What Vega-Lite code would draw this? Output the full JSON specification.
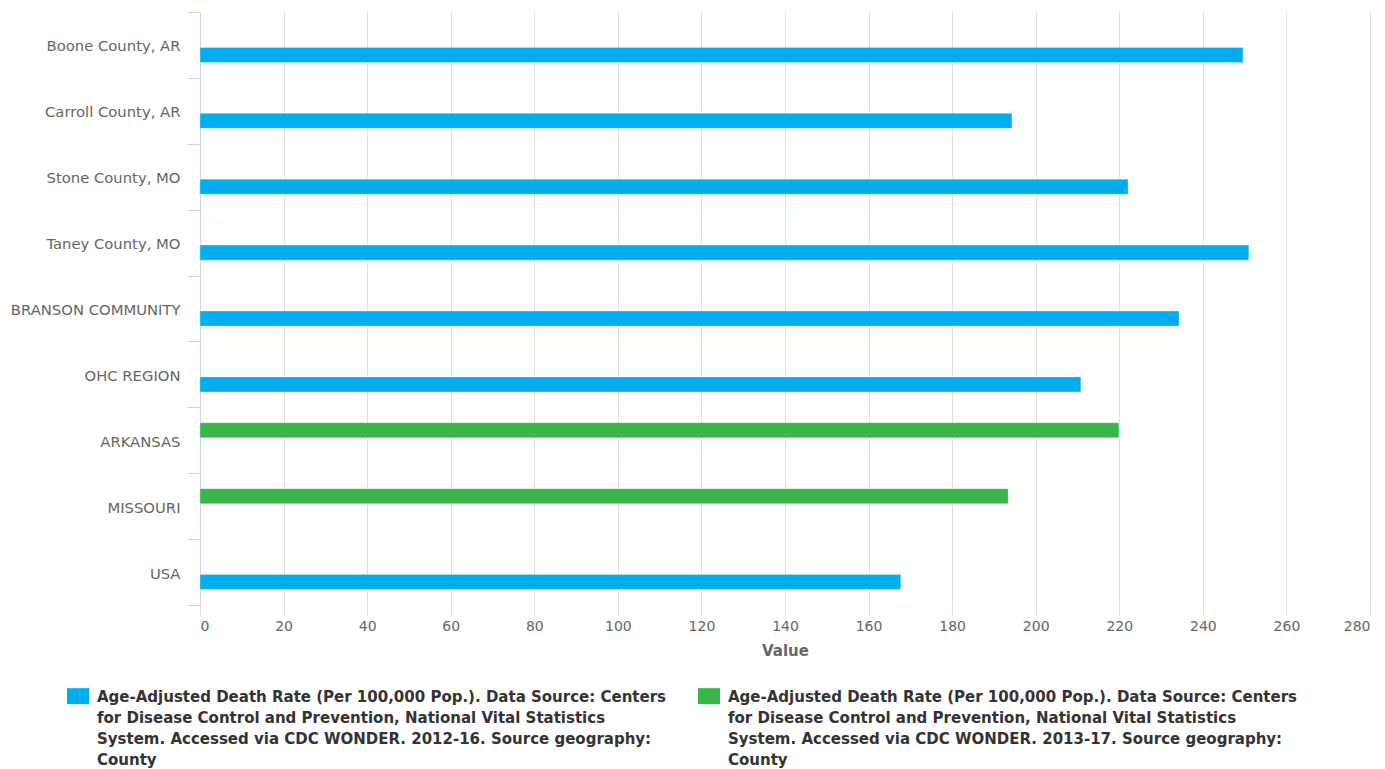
{
  "$schema": "https://vega.github.io/schema/vega-lite/v6.json",
  "width": 1170,
  "height": 593,
  "autosize": {"type": "none"},
  "padding": {"left": 200, "top": 12, "right": 15, "bottom": 164},
  "background": "white",
  "data": {
    "values": [
      {"place": "Boone County, AR", "series": "2012-16", "value": 249.6},
      {"place": "Carroll County, AR", "series": "2012-16", "value": 194.3},
      {"place": "Stone County, MO", "series": "2012-16", "value": 222.1},
      {"place": "Taney County, MO", "series": "2012-16", "value": 251.0},
      {"place": "BRANSON COMMUNITY", "series": "2012-16", "value": 234.3},
      {"place": "OHC REGION", "series": "2012-16", "value": 210.8},
      {"place": "ARKANSAS", "series": "2013-17", "value": 219.9},
      {"place": "MISSOURI", "series": "2013-17", "value": 193.4},
      {"place": "USA", "series": "2012-16", "value": 167.7}
    ]
  },
  "mark": {"type": "bar", "stroke": "white", "strokeWidth": 0.5, "strokeOpacity": 0.6},
  "encoding": {
    "y": {
      "field": "place",
      "type": "nominal",
      "sort": null,
      "scale": {"paddingInner": 0, "paddingOuter": 0},
      "axis": {
        "title": null,
        "tickBand": "extent",
        "tickSize": 13,
        "tickColor": "#ccd6eb",
        "domainColor": "#ccd6eb",
        "labelPadding": 7,
        "labelOffset": 2,
        "labelFont": "DejaVu Sans",
        "labelFontSize": 14.8,
        "labelColor": "#666666",
        "labelLimit": 300,
        "grid": false
      }
    },
    "yOffset": {
      "field": "series",
      "type": "nominal",
      "scale": {"domain": ["2013-17", "2012-16"], "paddingInner": 0.25, "paddingOuter": 0.77}
    },
    "x": {
      "field": "value",
      "type": "quantitative",
      "scale": {"domain": [0, 280], "nice": false},
      "axis": {
        "title": "Value",
        "values": [0, 20, 40, 60, 80, 100, 120, 140, 160, 180, 200, 220, 240, 260, 280],
        "domain": false,
        "grid": true,
        "gridColor": "#e0e0e0",
        "tickColor": "#e0e0e0",
        "tickSize": 10,
        "labelPadding": 4,
        "labelFont": "DejaVu Sans",
        "labelFontSize": 14,
        "labelColor": "#666666",
        "titleFont": "DejaVu Sans",
        "titleFontSize": 15,
        "titleFontWeight": "bold",
        "titleColor": "#666666",
        "titlePadding": 10
      }
    },
    "color": {
      "field": "series",
      "type": "nominal",
      "scale": {"domain": ["2012-16", "2013-17"], "range": ["#00AEEF", "#39B54A"]},
      "legend": {
        "title": null,
        "orient": "none",
        "legendX": -130,
        "legendY": 681.5,
        "direction": "horizontal",
        "columns": 2,
        "columnPadding": 32,
        "padding": 0,
        "symbolType": "M-1.375,-1.69H1.375V0.31H-1.375Z",
        "symbolSize": 256,
        "symbolStrokeWidth": 0,
        "symbolOffset": 0,
        "labelOffset": 11,
        "labelBaseline": "alphabetic",
        "labelFont": "DejaVu Sans",
        "labelFontSize": 15,
        "labelFontWeight": "bold",
        "labelColor": "#333333",
        "labelLimit": 1000,
        "labelExpr": "datum.value == '2012-16' ? ['Age-Adjusted Death Rate (Per 100,000 Pop.). Data Source: Centers', 'for Disease Control and Prevention, National Vital Statistics', 'System. Accessed via CDC WONDER. 2012-16. Source geography:', 'County'] : ['Age-Adjusted Death Rate (Per 100,000 Pop.). Data Source: Centers', 'for Disease Control and Prevention, National Vital Statistics', 'System. Accessed via CDC WONDER. 2013-17. Source geography:', 'County']"
      }
    }
  },
  "config": {
    "view": {"stroke": null},
    "style": {"guide-label": {"lineHeight": 21.2}}
  }
}
